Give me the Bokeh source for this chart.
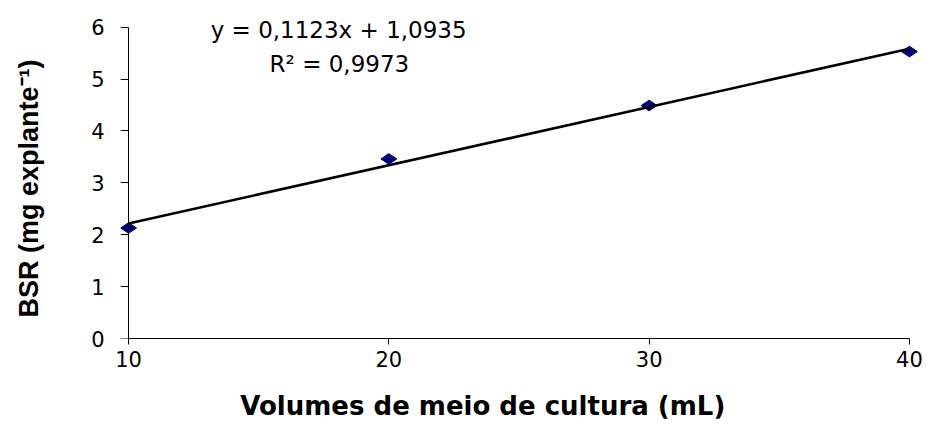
from bokeh.plotting import figure
from bokeh.models import Range1d, FixedTicker, Label, ColumnDataSource, LinearAxis
from bokeh.embed import file_html
from bokeh.resources import INLINE

# Biomass (BSR) measured against the volume of culture medium
volumes = [10, 20, 30, 40]
bsr = [2.13, 3.46, 4.49, 5.53]

# Linear trend fitted to the measurements
slope = 0.1123
intercept = 1.0935
r_squared = 0.9973

x_ticks = [10, 20, 30, 40]
y_ticks = [0, 1, 2, 3, 4, 5, 6]

x_title = "Volumes de meio de cultura (mL)"
y_title = "BSR (mg explante\u207b\u00b9)"

NBSP = "\u00a0"


def fmt(v):
    return f"{v:.4f}".replace(".", ",")


eq_text = f"y = {fmt(slope)}x + {fmt(intercept)}"
r2_text = f"R\u00b2 = {fmt(r_squared)}"

# a little room beyond the axis ends so end markers and the equation stay whole
p = figure(
    width=927, height=426,
    x_range=Range1d(9.69, 40.31), y_range=Range1d(0, 6.36),
    output_backend="svg", toolbar_location=None,
    min_border_left=120, min_border_right=10,
    min_border_top=8, min_border_bottom=88,
)
p.outline_line_color = None
p.background_fill_color = "white"
p.border_fill_color = "white"
p.xgrid.visible = False
p.ygrid.visible = False

# x axis
xa = p.xaxis[0]
xa.ticker = FixedTicker(ticks=x_ticks)
xa.bounds = (10, 40)
xa.axis_line_color = "black"
xa.major_tick_line_color = "black"
xa.major_tick_in = 0
xa.major_tick_out = 6
xa.minor_tick_line_color = None
xa.major_label_text_font = "DejaVu Sans"
xa.major_label_text_font_size = "21px"
xa.major_label_text_color = "black"
xa.major_label_standoff = 6
# title padded at its far end so it sits left of centre
xa.axis_label = x_title + NBSP * 8
xa.axis_label_text_font = "DejaVu Sans"
xa.axis_label_text_font_style = "bold"
xa.axis_label_text_font_size = "26px"
xa.axis_label_text_color = "black"
xa.axis_label_standoff = 21

# y axis labels (outer panel); its own line and ticks are hidden
ya = p.yaxis[0]
ya.ticker = FixedTicker(ticks=y_ticks)
ya.bounds = (0, 6)
ya.axis_line_color = None
ya.major_tick_line_color = None
ya.minor_tick_line_color = None
ya.major_tick_in = 0
ya.major_tick_out = 9
ya.major_label_standoff = 7
ya.major_label_text_font = "DejaVu Sans"
ya.major_label_text_font_size = "21px"
ya.major_label_text_color = "black"
# title padded at its far end so it sits below centre
ya.axis_label = y_title + NBSP * 4
ya.axis_label_text_font = "Liberation Sans"
ya.axis_label_text_font_style = "bold"
ya.axis_label_text_font_size = "27px"
ya.axis_label_text_color = "black"
ya.axis_label_standoff = 44

# y axis line and ticks, pinned at x = 10
y_line = LinearAxis(
    fixed_location=10, ticker=FixedTicker(ticks=y_ticks), bounds=(0, 6),
    axis_line_color="black", major_tick_line_color="black",
    major_tick_in=0, major_tick_out=8, minor_tick_line_color=None,
    major_label_text_font_size="0px", major_label_standoff=0,
    major_label_overrides={t: "" for t in y_ticks},
)
p.add_layout(y_line, "left")

# measured points
src = ColumnDataSource(dict(x=volumes, y=bsr))
p.scatter("x", "y", source=src, marker="diamond", size=16, angle=1.5708,
          fill_color="#000080", line_color="#000080")

# trend line over the measured span
x_fit = [min(volumes), max(volumes)]
y_fit = [slope * v + intercept for v in x_fit]
p.line(x_fit, y_fit, line_color="black", line_width=2.6)

# regression equation
p.add_layout(Label(x=18.07, y=5.94, text=eq_text, text_align="center",
                   text_baseline="middle", text_font="DejaVu Sans",
                   text_font_size="23px", text_color="black"))
p.add_layout(Label(x=18.1, y=5.30, text=r2_text, text_align="center",
                   text_baseline="middle", text_font="DejaVu Sans",
                   text_font_size="23px", text_color="black"))

open("out.html", "w").write(file_html(p, INLINE))
